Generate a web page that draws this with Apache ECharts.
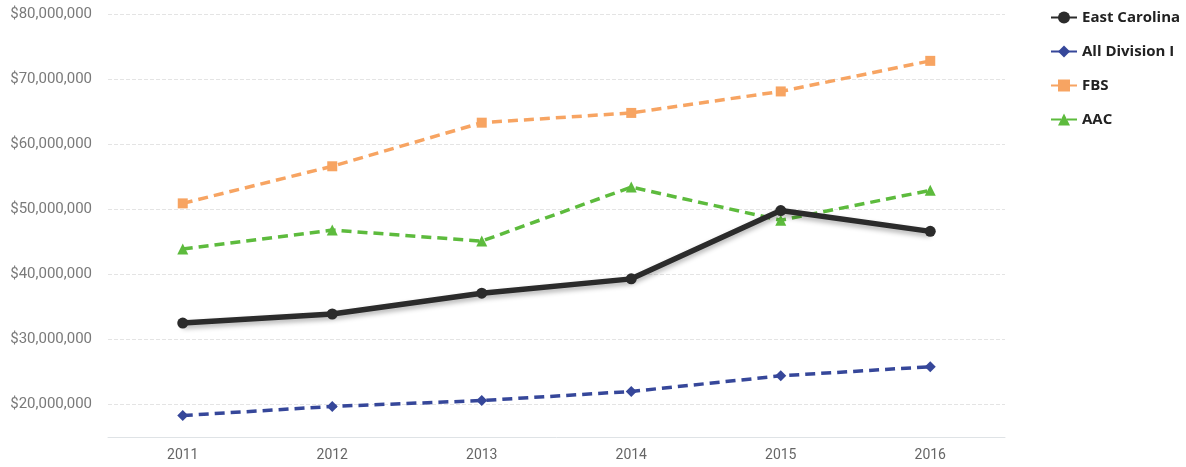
<!doctype html>
<html style="height: 100%">
<head>
<meta charset="utf-8">
<title>Athletics revenue</title>
<script src="https://cdn.jsdelivr.net/npm/echarts@6/dist/echarts.min.js"></script>
</head>
<body style="height: 100%; margin: 0; background: #fff">
<div id="container" style="width: 1186px; height: 467px"></div>
<script>
var years = ['2011', '2012', '2013', '2014', '2015', '2016'];
var eastCarolina = [32500000, 33900000, 37100000, 39300000, 49800000, 46600000];
var allDivision = [18300000, 19700000, 20600000, 22000000, 24400000, 25800000];
var fbs = [50900000, 56600000, 63300000, 64800000, 68100000, 72800000];
var aac = [43900000, 46800000, 45100000, 53400000, 48300000, 52900000];

var chart = echarts.init(document.getElementById('container'));

function money(v) {
  return '$' + v.toString().replace(/\B(?=(\d{3})+(?!\d))/g, ',');
}

var option = {
  animation: false,
  grid: { left: 108, right: 181, top: 14, bottom: 30 },
  legend: {
    orient: 'vertical',
    left: 1045,
    top: 5,
    itemGap: 19,
    itemWidth: 26,
    itemHeight: 15,
    textStyle: { fontFamily: 'Open Sans', fontWeight: 'bold', fontSize: 15, color: '#222' },
    data: ['East Carolina', 'All Division I', 'FBS', 'AAC']
  },
  xAxis: {
    type: 'category',
    data: years,
    boundaryGap: true,
    axisLine: { lineStyle: { color: '#dfe3e6' } },
    axisTick: { lineStyle: { color: '#e6e9eb' }, length: 6 },
    axisLabel: { color: '#666', fontFamily: 'Roboto', fontSize: 14, margin: 11 }
  },
  yAxis: {
    type: 'value',
    min: 15000000,
    max: 80000000,
    interval: 5000000,
    axisLine: { show: false },
    axisTick: { show: false },
    axisLabel: {
      color: '#7a7a7a', fontFamily: 'Roboto', fontSize: 15, margin: 16,
      formatter: function (v) { return v % 10000000 === 0 ? money(v) : ''; }
    },
    splitLine: { lineStyle: { color: ['rgba(0,0,0,0)', '#e4e4e4'], type: 'dashed', width: 1 } }
  },
  series: [
    {
      name: 'East Carolina', type: 'line', data: eastCarolina, z: 5,
      symbol: 'circle', symbolSize: 11,
      itemStyle: { color: '#2b2b2b' },
      lineStyle: { width: 5.5, color: '#2b2b2b', shadowColor: 'rgba(0,0,0,0.3)', shadowBlur: 5, shadowOffsetY: 3 }
    },
    {
      name: 'All Division I', type: 'line', data: allDivision,
      symbol: 'diamond', symbolSize: 11,
      itemStyle: { color: '#36479a' },
      lineStyle: { width: 3.5, color: '#36479a', type: [10, 6] }
    },
    {
      name: 'FBS', type: 'line', data: fbs,
      symbol: 'rect', symbolSize: 10,
      itemStyle: { color: '#f7a462' },
      lineStyle: { width: 3.5, color: '#f7a462', type: [10, 6] }
    },
    {
      name: 'AAC', type: 'line', data: aac,
      symbol: 'triangle', symbolSize: 11,
      itemStyle: { color: '#5dbb3d' },
      lineStyle: { width: 3.5, color: '#5dbb3d', type: [10, 6] }
    }
  ]
};

chart.setOption(option);
</script>
</body>
</html>
